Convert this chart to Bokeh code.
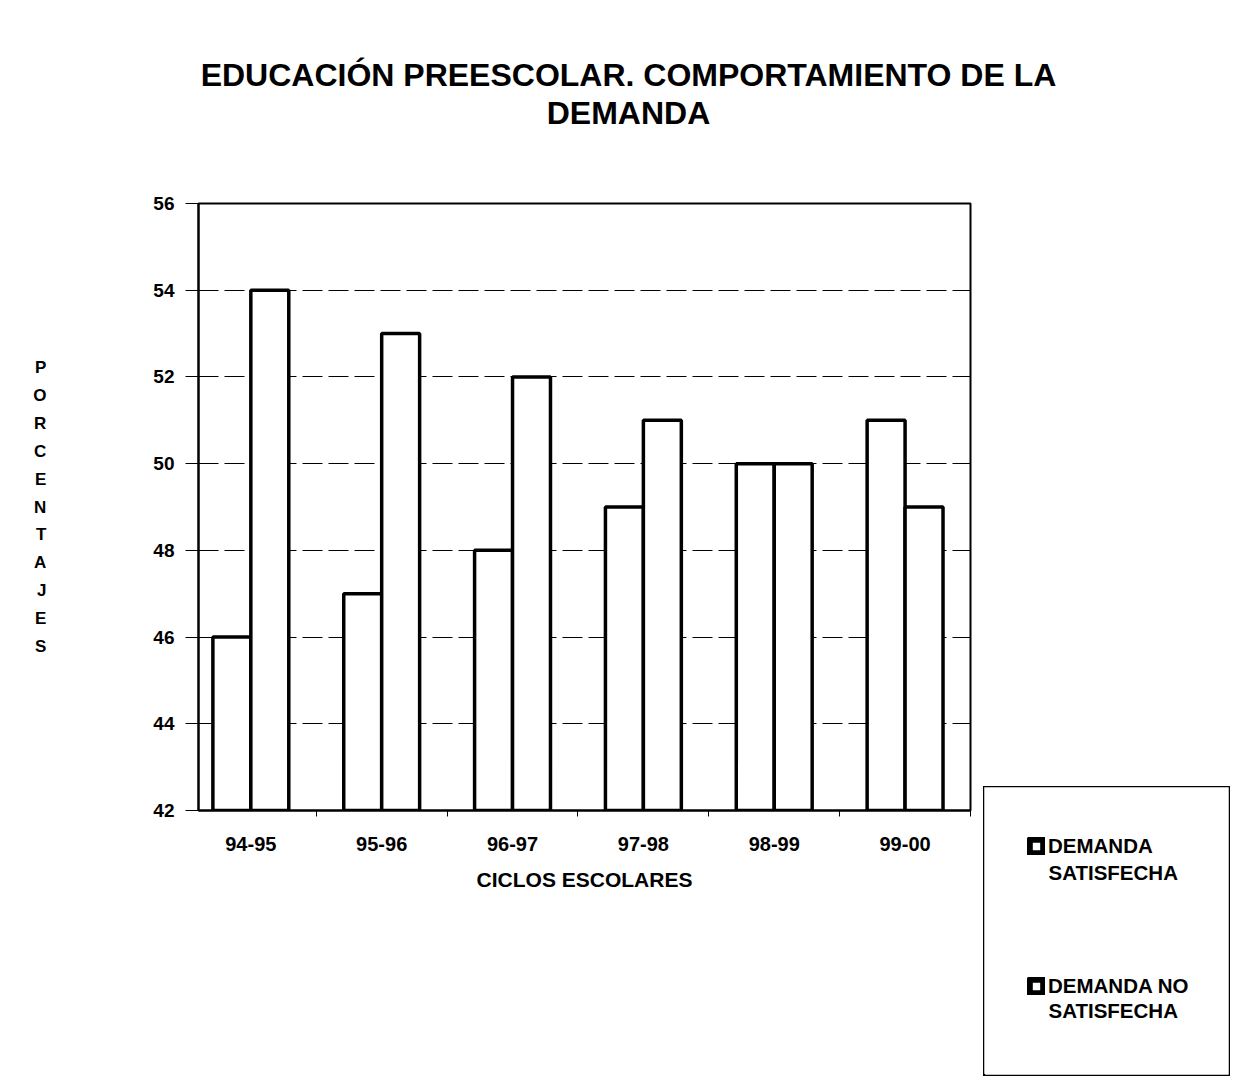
from bokeh.plotting import figure
from bokeh.models import (ColumnDataSource, FixedTicker, Range1d, Title, Legend, LegendItem,
                          Spacer)
from bokeh.layouts import row, column
from bokeh.core.properties import value
from bokeh.embed import file_html
from bokeh.resources import INLINE

ciclos = ["94-95", "95-96", "96-97", "97-98", "98-99", "99-00"]
satisfecha = [46, 47, 48, 49, 50, 51]
no_satisfecha = [54, 53, 52, 51, 50, 49]
y_ticks = [42, 44, 46, 48, 50, 52, 54, 56]
legend_first = ["DEMANDA", "DEMANDA NO"]
legend_second = ["SATISFECHA", "SATISFECHA"]
title_lines = ["EDUCACIÓN PREESCOLAR. COMPORTAMIENTO DE LA", "DEMANDA"]
y_title = "PORCENTAJES"

FONT = "Liberation Sans"
TOTAL_W = 1230
TH = 140                      # height of the title strip
W, H = 983, 1075 - TH         # main chart figure
FL, FR, FT, FB = 198, 970, 203, 810   # frame edges on the page

# ---------- title strip ----------
tf = figure(width=TOTAL_W, height=TH, output_backend="svg", toolbar_location=None,
            x_range=Range1d(0, 1), y_range=Range1d(0, 1),
            min_border_left=26, min_border_right=0, min_border_top=130, min_border_bottom=0)
tf.axis.visible = False
tf.grid.visible = False
tf.outline_line_color = None
tf.background_fill_color = "white"
tf.border_fill_color = "white"
tf.title = None
tf.add_layout(Title(text=title_lines[1], align="center", text_font=FONT,
                    text_font_style="bold", text_font_size="32px", text_color="black",
                    standoff=0), "above")
tf.add_layout(Title(text=title_lines[0], align="center", text_font=FONT,
                    text_font_style="bold", text_font_size="32px", text_color="black",
                    standoff=0), "above")

# ---------- main chart ----------
xs = list(range(len(ciclos)))
src = ColumnDataSource(dict(
    x1=[x - 0.145 for x in xs], x2=[x + 0.145 for x in xs],
    s=satisfecha, n=no_satisfecha))

p = figure(width=W, height=H, output_backend="svg", toolbar_location=None,
           x_range=Range1d(-0.4, 5.5), y_range=Range1d(42, 56),
           min_border_left=FL, min_border_right=W - FR,
           min_border_top=FT - TH, min_border_bottom=1075 - FB)
p.outline_line_color = "black"
p.outline_line_width = 2
p.background_fill_color = "white"
p.border_fill_color = "white"

p.vbar(x="x1", top="s", bottom=42, width=0.29, source=src,
       fill_color="white", line_color="black", line_width=3.5)
p.vbar(x="x2", top="n", bottom=42, width=0.29, source=src,
       fill_color="white", line_color="black", line_width=3.5)

p.xaxis.ticker = FixedTicker(ticks=xs, minor_ticks=[x + 0.5 for x in [-1] + xs])
p.xaxis.major_label_overrides = {i: c for i, c in enumerate(ciclos)}
p.xaxis.major_tick_line_color = None
p.xaxis.minor_tick_out = 6
p.xaxis.minor_tick_in = 0
p.xaxis.minor_tick_line_color = "black"
p.xaxis.axis_line_color = "black"
p.xaxis.axis_line_width = 2
p.xaxis.major_label_text_font = FONT
p.xaxis.major_label_text_font_style = "bold"
p.xaxis.major_label_text_font_size = "20px"
p.xaxis.major_label_text_color = "black"
p.xaxis.major_label_standoff = 20
p.xaxis.axis_label = "CICLOS ESCOLARES"
p.xaxis.axis_label_text_font = FONT
p.xaxis.axis_label_text_font_style = "bold"
p.xaxis.axis_label_text_font_size = "21px"
p.xaxis.axis_label_text_color = "black"
p.xaxis.axis_label_standoff = 14

p.yaxis.ticker = FixedTicker(ticks=y_ticks)
p.yaxis.minor_tick_line_color = None
p.yaxis.major_tick_out = 13
p.yaxis.major_tick_in = 0
p.yaxis.major_tick_line_color = "black"
p.yaxis.axis_line_color = "black"
p.yaxis.axis_line_width = 2
p.yaxis.major_label_text_font = FONT
p.yaxis.major_label_text_font_style = "bold"
p.yaxis.major_label_text_font_size = "19px"
p.yaxis.major_label_text_color = "black"
p.yaxis.major_label_standoff = 11
p.yaxis.axis_label = "\n".join(y_title)
p.yaxis.axis_label_orientation = "horizontal"
p.yaxis.axis_label_text_font = FONT
p.yaxis.axis_label_text_font_style = "bold"
p.yaxis.axis_label_text_font_size = "17px"
p.yaxis.axis_label_text_color = "black"
p.yaxis.axis_label_text_line_height = 1.47
p.yaxis.axis_label_standoff = 104

p.xgrid.grid_line_color = None
p.ygrid.ticker = FixedTicker(ticks=y_ticks)
p.ygrid.grid_line_color = "black"
p.ygrid.grid_line_width = 1
p.ygrid.grid_line_dash = "20 6"

# ---------- legend box (bottom right) ----------
LW, LH = 247, 290
lg = figure(width=LW, height=LH, output_backend="svg", toolbar_location=None,
            x_range=Range1d(0, LW), y_range=Range1d(0, LH),
            min_border_left=0, min_border_right=0, min_border_top=0, min_border_bottom=0)
lg.axis.visible = False
lg.grid.visible = False
lg.outline_line_color = "black"
lg.outline_line_width = 1.5
lg.background_fill_color = "white"
lg.border_fill_color = "white"

# legend-only renderers (placed outside the visible range; only their swatches show)
g1 = lg.vbar(x=[-1000], top=[-1000], width=1,
             fill_color="white", line_color="black", line_width=7)
g2 = lg.vbar(x=[-1000], top=[-1000], width=1,
             fill_color="white", line_color="black", line_width=7)

legend = Legend(items=[LegendItem(label=legend_first[0], renderers=[g1]),
                       LegendItem(label=legend_first[1], renderers=[g2])],
                location=(44, 78), orientation="vertical",
                border_line_color=None, background_fill_alpha=0,
                padding=0, margin=0, spacing=116, glyph_width=18, glyph_height=18,
                label_height=24, label_standoff=3,
                label_text_font=FONT, label_text_font_style="bold",
                label_text_font_size="20.5px", label_text_color="black",
                label_text_baseline="middle")
lg.add_layout(legend, "center")

lg.text(x=[65, 65], y=[LH - 86, LH - 224], text=legend_second,
        text_font=value(FONT), text_font_style="bold", text_font_size="20.5px",
        text_color="black", text_align="left", text_baseline="middle")

layout = column(tf, row(p, column(Spacer(width=LW, height=786 - TH), lg)))
open("out.html", "w").write(file_html(layout, INLINE))
